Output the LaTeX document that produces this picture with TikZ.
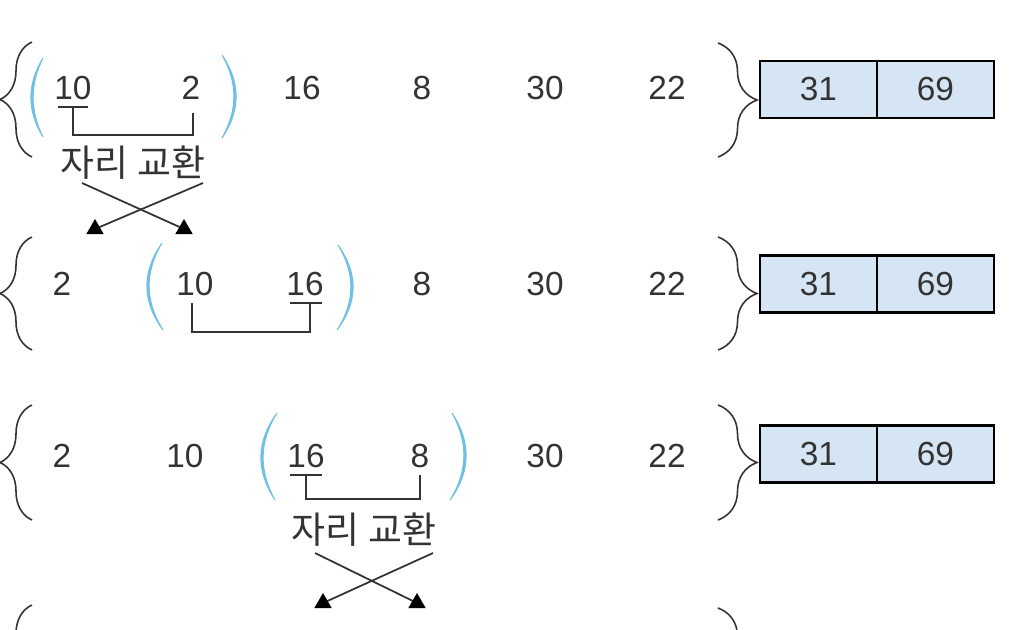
\documentclass[tikz,border=0pt]{standalone}
\usepackage{fontspec}
\setmainfont{Liberation Sans}
\newfontfamily\kofont{Noto Sans CJK KR}
\usepackage{tikz}
\usetikzlibrary{positioning}
\usetikzlibrary{calc}
\usetikzlibrary{decorations.pathreplacing}
\usetikzlibrary{shapes.geometric}
\definecolor{parenblue}{RGB}{112,192,228}
\definecolor{cellblue}{RGB}{214,229,244}
\definecolor{inkgray}{RGB}{51,51,51}

\begin{document}
\begin{tikzpicture}[x=0.02cm, y=-0.02cm,
num/.style={inner sep=0pt, text height=0.48cm, text depth=0pt, font=\fontsize{19}{19}\selectfont, text=inkgray},
cell/.style={draw, line width=1.4pt, fill=cellblue, minimum width=2.34cm, minimum height=1.14cm, outer sep=0pt, inner sep=0pt, font=\fontsize{19}{19}\selectfont, text=inkgray},
lbrace/.style={decorate, decoration={brace, amplitude=0.64cm}, line width=0.9pt, draw=inkgray},
rbrace/.style={decorate, decoration={brace, amplitude=0.78cm}, line width=0.9pt, draw=inkgray},
paren/.style={fill=parenblue, draw=parenblue, line width=0.6pt},
link/.style={draw=inkgray, line width=1pt},
swaptext/.style={font=\kofont\fontsize{21}{21}\selectfont, text=inkgray, inner sep=0pt},
headtri/.style={regular polygon, regular polygon sides=3, fill=black, inner sep=0pt, minimum size=0.4cm},
]
\useasboundingbox (0,0) rectangle (1016,629);
\clip (0,0) rectangle (1016,629);

\foreach \v/\x [count=\i] in {10/73,2/191,16/302,8/422,30/545,22/667}
  \node[num] (r1c\i) at (\x,87) {\v};
\foreach \v/\x [count=\i] in {2/62,10/195,16/305,8/422,30/545,22/667}
  \node[num] (r2c\i) at (\x,283) {\v};
\foreach \v/\x [count=\i] in {2/62,10/185,16/306,8/420,30/545,22/667}
  \node[num] (r3c\i) at (\x,455) {\v};

\foreach \r/\y in {1/89.5,2/284,3/454} {
  \node[cell, anchor=west] (box\r a) at (760,\y) {31};
  \node[cell, right=0pt of box\r a] (box\r b) {69};
}

\foreach \t/\b in {42/157,237/350,405/520,605/720}
  \draw[lbrace] (32,\b) -- (32,\t);
\foreach \t/\b in {43/157,237/350,405/520,608/722}
  \draw[rbrace] (718,\t) -- (718,\b);

\foreach \tx/\ty/\bx/\by/\m/\w in {43/58/43/137/32/-1, 222/55/222/138/235/1,
    162/243/163/330/148/-1, 338/245/337/330/352/1,
    277/413/275/500/262/-1, 452/413/450/500/465/1} {
  \pgfmathsetmacro\co{(8*(\m+1.1*\w)-\tx-\bx)/6}
  \pgfmathsetmacro\ci{(8*(\m-1.1*\w)-\tx-\bx)/6}
  \pgfmathsetmacro\ya{\ty+(\by-\ty)/3}
  \pgfmathsetmacro\yb{\by-(\by-\ty)/3}
  \filldraw[paren] (\tx,\ty) .. controls (\co,\ya) and (\co,\yb) .. (\bx,\by)
    .. controls (\ci,\yb) and (\ci,\ya) .. cycle;
}

\draw[link] ($(r1c1.south)+(0,8)$) -- ++(0,28) -| ($(r1c2.south)+(2,14)$);
\draw[link] ($(r1c1.south)+(-15,8)$) -- ++(30,0);
\draw[link] ($(r2c2.south)+(-3,8)$) -- ++(0,29) -| ($(r2c3.south)+(5,8)$);
\draw[link] ($(r2c3.south)+(-15,8)$) -- ++(32,0);
\draw[link] ($(r3c3.south)+(0,8)$) -- ++(0,24) -| ($(r3c4.south)+(0,8)$);
\draw[link] ($(r3c3.south)+(-16,8)$) -- ++(32,0);

\node[swaptext] (swap1) at (133,163) {자리 교환};
\node[swaptext] (swap3) at (364,530) {자리 교환};

\coordinate (s1a) at (82,183);
\coordinate (e1a) at (184,229);
\coordinate (s1b) at (203,183);
\coordinate (e1b) at (95,229);
\coordinate (s3a) at (315,553);
\coordinate (e3a) at (417,603);
\coordinate (s3b) at (433,553);
\coordinate (e3b) at (323,603);
\draw[link] (s1a) -- (e1a);
\draw[link] (s1b) -- (e1b);
\draw[link] (s3a) -- (e3a);
\draw[link] (s3b) -- (e3b);
\foreach \e in {e1a,e1b,e3a,e3b}
  \node[headtri] at (\e) {};
\end{tikzpicture}
\end{document}
